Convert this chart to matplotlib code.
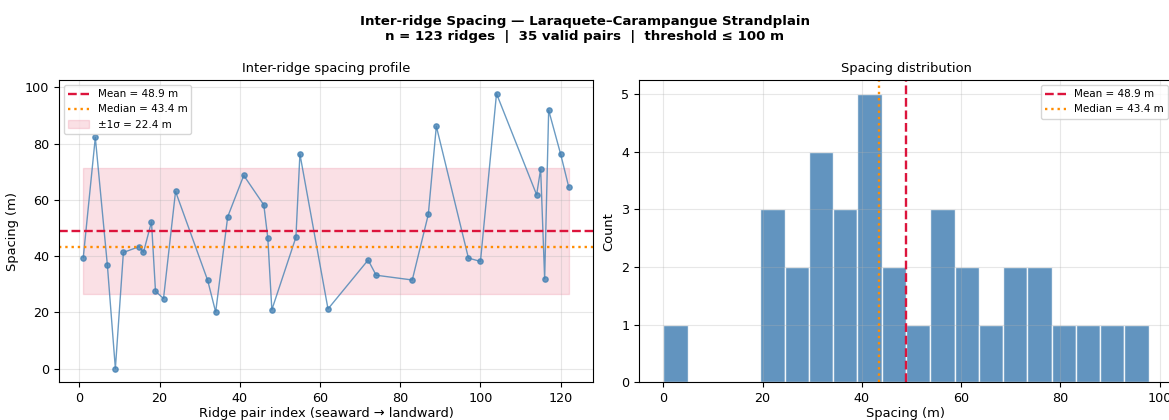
import numpy as np
import matplotlib
matplotlib.use("Agg")
import matplotlib.pyplot as plt

# ridge pair index (seaward -> landward) and spacing in metres
pair_index = [1, 4, 7, 9, 11, 15, 16, 18, 19, 21, 24, 32, 34, 37, 41, 46, 47, 48,
              54, 55, 62, 72, 74, 83, 87, 89, 97, 100, 104, 114, 115, 116, 117, 120, 122]
spacing_m = [39.5, 82.2, 36.9, 0.0, 41.3, 43.4, 41.3, 52.2, 27.5, 24.9, 63.0, 31.4,
             20.1, 54.0, 68.7, 58.2, 46.4, 20.9, 46.7, 76.3, 21.2, 38.6, 33.2, 31.5,
             54.8, 86.2, 39.3, 38.1, 97.8, 61.8, 71.0, 31.9, 91.9, 76.2, 64.6]

n_ridges = 123
threshold = 100

x = np.array(pair_index)
s = np.array(spacing_m)
mean = s.mean()
median = np.median(s)
std = s.std()

plt.rcParams["xtick.labelsize"] = 9.2
plt.rcParams["ytick.labelsize"] = 9.2
plt.rcParams["axes.labelsize"] = 9.4

fig = plt.figure(figsize=(11.69, 4.2), dpi=100)
# the right panel runs past the canvas edge, as in the original crop
ax1 = fig.add_axes([59 / 1169, 0.0898, 534 / 1169, 0.72])
ax2 = fig.add_axes([639 / 1169, 0.0898, 534 / 1169, 0.72])

fig.suptitle("Inter-ridge Spacing \u2014 Laraquete\u2013Carampangue Strandplain\n"
             f"n = {n_ridges} ridges  |  {len(s)} valid pairs  |  threshold \u2264 {threshold} m",
             fontsize=9.6, fontweight="bold", y=0.965)

# profile
ax1.plot(x, s, "o-", color="steelblue", lw=1, ms=3.8, alpha=0.8)
ax1.axhline(mean, color="crimson", ls="--", lw=1.7, label=f"Mean = {mean:.1f} m")
ax1.axhline(median, color="darkorange", ls=":", lw=1.7, label=f"Median = {median:.1f} m")
ax1.fill_between([x.min(), x.max()], mean - std, mean + std, color="crimson",
                 alpha=0.13, label=f"\u00b11\u03c3 = {std:.1f} m")
ax1.set_xlabel("Ridge pair index (seaward \u2192 landward)", labelpad=1.5)
ax1.set_ylabel("Spacing (m)")
ax1.set_title("Inter-ridge spacing profile", fontsize=9.4)
ax1.legend(fontsize=7.5, loc="upper left")
ax1.grid(alpha=0.3)

# distribution
ax2.hist(s, bins=20, color="steelblue", edgecolor="white", alpha=0.85)
ax2.axvline(mean, color="crimson", ls="--", lw=1.7, label=f"Mean = {mean:.1f} m")
ax2.axvline(median, color="darkorange", ls=":", lw=1.7, label=f"Median = {median:.1f} m")
ax2.set_xlabel("Spacing (m)", labelpad=1.5)
ax2.set_ylabel("Count")
ax2.set_title("Spacing distribution", fontsize=9.4)
ax2.legend(fontsize=7.5, loc="upper right")
ax2.grid(alpha=0.3)

fig.savefig("out.png", dpi=100)
